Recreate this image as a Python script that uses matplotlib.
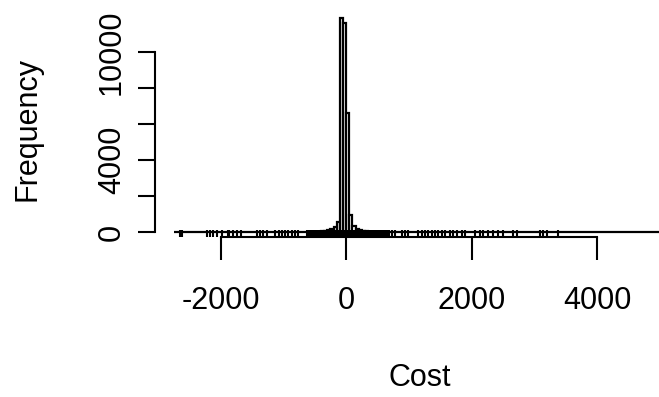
import numpy as np
import matplotlib.pyplot as plt

plt.rcParams['font.family'] = ['Liberation Sans', 'DejaVu Sans']

# histogram: 50-wide bins, only the central bins hold visible counts
bin_width = 50
bin_start = -2750
bin_stop = 5400
center_left = -400
center_counts = [40, 60, 90, 140, 250, 560, 11870, 11620,
                 6600, 950, 320, 160, 90, 60, 40, 25]

# rug of the individual costs
rug_values = [
    -2645, -2620, -2210, -2167, -2125, -2060, -1981, -1885, -1860, -1806,
    -1732, -1679, -1423, -1370, -1317, -1264, -1131, -1063, -1015, -972,
    -919, -866, -813, -760, -626,
    -590, -566, -540, -518, -492, -470, -451, -428, -409, -390, -368, -350,
    -331, -309, -290, -272, -250, -231, -212, -190, -171, -152, -130, -111,
    -90, -72, -51, -33, -12, 8, 27, 46, 68, 87, 105, 126, 147, 165, 186,
    204, 226, 245, 266, 284, 305, 327, 346, 367, 388, 410, 431, 452, 474,
    497, 520, 545, 568, 594, 620, 650, 680,
    728, 781, 888, 940, 993, 1153, 1206, 1259, 1312, 1366, 1418, 1472,
    1525, 1578, 1657, 1710, 1764, 1844, 1896, 2056, 2135, 2188, 2268,
    2347, 2427, 2507, 2666, 2720, 3092, 3134, 3198, 3384,
]

x_ticks = [-2000, 0, 2000, 4000]
x_labels = ['-2000', '0', '2000', '4000']
y_ticks = [0, 2000, 4000, 6000, 8000, 10000]
y_labels = ['0', '', '4000', '', '', '10000']

edges = np.arange(bin_start, bin_stop + 1, bin_width)
counts = np.zeros(len(edges) - 1)
i0 = int((center_left - bin_start) / bin_width)
counts[i0:i0 + len(center_counts)] = center_counts

fig = plt.figure(figsize=(6.59, 3.97), dpi=100)
ax = fig.add_axes([155 / 659, 160 / 397, 529 / 659, 237 / 397])

ax.bar(edges[:-1], counts, width=bin_width, align='edge', color='white',
       edgecolor='black', linewidth=1.6)
ax.vlines(rug_values, 0, 0.03, transform=ax.get_xaxis_transform(),
          color='black', linewidth=1.5)

ax.set_xlim(-3046, 5386)
ax.set_ylim(-278, 12889)

for s in ['top', 'right']:
    ax.spines[s].set_visible(False)
ax.spines['left'].set_bounds(0, 10000)
ax.spines['bottom'].set_bounds(-2000, 4000)
for s in ['left', 'bottom']:
    ax.spines[s].set_linewidth(1.5)

ax.set_xticks(x_ticks, x_labels)
ax.set_yticks(y_ticks, y_labels)
ax.tick_params(axis='x', length=16.5, width=1.5, pad=19, labelsize=22)
ax.tick_params(axis='y', length=12.2, width=1.5, pad=8, labelsize=22,
               labelrotation=90)
for lab in ax.get_yticklabels():
    lab.set_verticalalignment('center')

ax.set_xlabel('Cost', fontsize=22)
ax.set_ylabel('Frequency', fontsize=22)
ax.xaxis.set_label_coords(0.5, -0.53)
ax.yaxis.set_label_coords(-0.212, 0.456)

fig.savefig('out.png', dpi=100)
